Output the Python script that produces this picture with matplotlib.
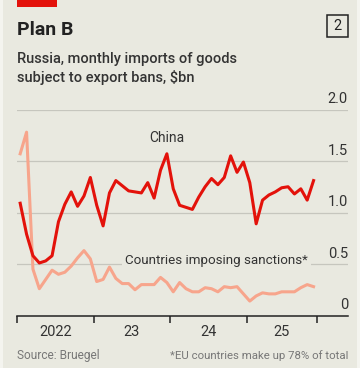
import numpy as np
import matplotlib.pyplot as plt
from matplotlib.patches import Rectangle

# Monthly values, Jan 2022 - Nov 2025, $bn
china = [1.09, 0.79, 0.58, 0.51, 0.53, 0.58, 0.91, 1.08, 1.20, 1.06, 1.16, 1.34,
         1.07, 0.87, 1.19, 1.31, 1.26, 1.21, 1.20, 1.19, 1.29, 1.14, 1.41, 1.57,
         1.23, 1.07, 1.05, 1.03, 1.15, 1.25, 1.33, 1.27, 1.34, 1.55, 1.39, 1.49,
         1.29, 0.89, 1.12, 1.17, 1.20, 1.24, 1.25, 1.18, 1.23, 1.12, 1.31]
sanctions = [1.57, 1.78, 0.45, 0.26, 0.35, 0.44, 0.40, 0.42, 0.48, 0.56, 0.63, 0.55,
             0.33, 0.35, 0.47, 0.36, 0.31, 0.31, 0.25, 0.30, 0.30, 0.30, 0.37, 0.32,
             0.23, 0.32, 0.26, 0.23, 0.23, 0.27, 0.26, 0.23, 0.28, 0.27, 0.28, 0.21,
             0.14, 0.19, 0.22, 0.21, 0.21, 0.23, 0.23, 0.23, 0.27, 0.30, 0.28]
year_labels = ["2022", "23", "24", "25"]
y_ticks = [0, 0.5, 1.0, 1.5, 2.0]
y_tick_labels = ["0", "0.5", "1.0", "1.5", "2.0"]

BG = "#E9E9E0"
RED = "#E3120B"
SALMON = "#F7A58C"
DARK = "#222222"

W, H = 360, 368
fig = plt.figure(figsize=(W / 100, H / 100), dpi=100)
fig.patch.set_facecolor("#F4F4EF")
fig.patches.append(Rectangle((3 / W, 0), 354 / W, 1, transform=fig.transFigure,
                             facecolor=BG, edgecolor="none", zorder=-5))

plt.rcParams['font.family'] = ['Roboto', 'DejaVu Sans']

def fx(px):
    return px / W

def fy(py):
    return 1 - py / H

# red tag on top
fig.patches.append(Rectangle((fx(17), fy(6.5)), fx(40), 6.5 / H, transform=fig.transFigure,
                             facecolor=RED, edgecolor="none"))

fig.text(fx(17), fy(35), "Plan B", fontsize=14, fontweight="bold", color=DARK, va="baseline")
fig.patches.append(Rectangle((fx(327), fy(37)), fx(21), 22 / H, transform=fig.transFigure,
                             facecolor="none", edgecolor=DARK, linewidth=1.1))
fig.text(fx(337.5), fy(26), "2", fontsize=10.5, color=DARK, ha="center", va="center")

fig.text(fx(17), fy(63), "Russia, monthly imports of goods", fontsize=10.5,
         fontweight="medium", color="#333333", va="baseline")
fig.text(fx(17), fy(82), "subject to export bans, $bn", fontsize=10.5,
         fontweight="medium", color="#333333", va="baseline")

# axes: 0 at y=315.5px, 2.0 at y=109.5px
ax = fig.add_axes([fx(17), fy(315.5), fx(348 - 17), (315.5 - 109.5) / H])
ax.set_facecolor("none")
ax.set_xlim(0, 51.9)
ax.set_ylim(0, 2.0)

for s in ["top", "right", "left"]:
    ax.spines[s].set_visible(False)
ax.spines["bottom"].set_color(DARK)
ax.spines["bottom"].set_linewidth(1.1)

for v in y_ticks[1:]:
    ax.axhline(v, color="#C6C6BE", linewidth=0.9, zorder=0)
for v, lab in zip(y_ticks, y_tick_labels):
    ax.text(1.0, v + 0.03, lab, transform=ax.get_yaxis_transform(), ha="right",
            va="bottom", fontsize=10.5, color="#333333")
ax.set_yticks([])

ax.set_xticks([0, 12, 24, 36, 47])
ax.set_xticklabels([])
ax.tick_params(axis="x", which="major", length=5, width=1.1, color=DARK, direction="out")
ax.set_xticks([6, 18, 30, 41.5], minor=True)
ax.set_xticklabels(year_labels, minor=True, fontsize=10.5, color="#333333")
ax.tick_params(axis="x", which="minor", length=0, pad=7)

x = np.arange(len(china)) + 0.5
ax.plot(x, sanctions, color=SALMON, linewidth=2.2, solid_joinstyle="round", zorder=3, clip_on=False)
ax.plot(x, china, color=RED, linewidth=2.2, solid_joinstyle="round", zorder=4, clip_on=False)

ax.text(23.5, 1.72, "China", fontsize=10, color="#333333", ha="center", va="center")
ax.text(31.3, 0.535, "Countries imposing sanctions*", fontsize=9.6, color="#333333",
        ha="center", va="center", zorder=2,
        bbox=dict(facecolor=BG, edgecolor="none", pad=2))

fig.text(fx(17), fy(356), "Source: Bruegel", fontsize=8.6, color="#777777", va="center")
fig.text(fx(348), fy(356), "*EU countries make up 78% of total", fontsize=8.2,
         color="#777777", va="center", ha="right")

fig.savefig("out.png", dpi=100, facecolor=fig.get_facecolor())
